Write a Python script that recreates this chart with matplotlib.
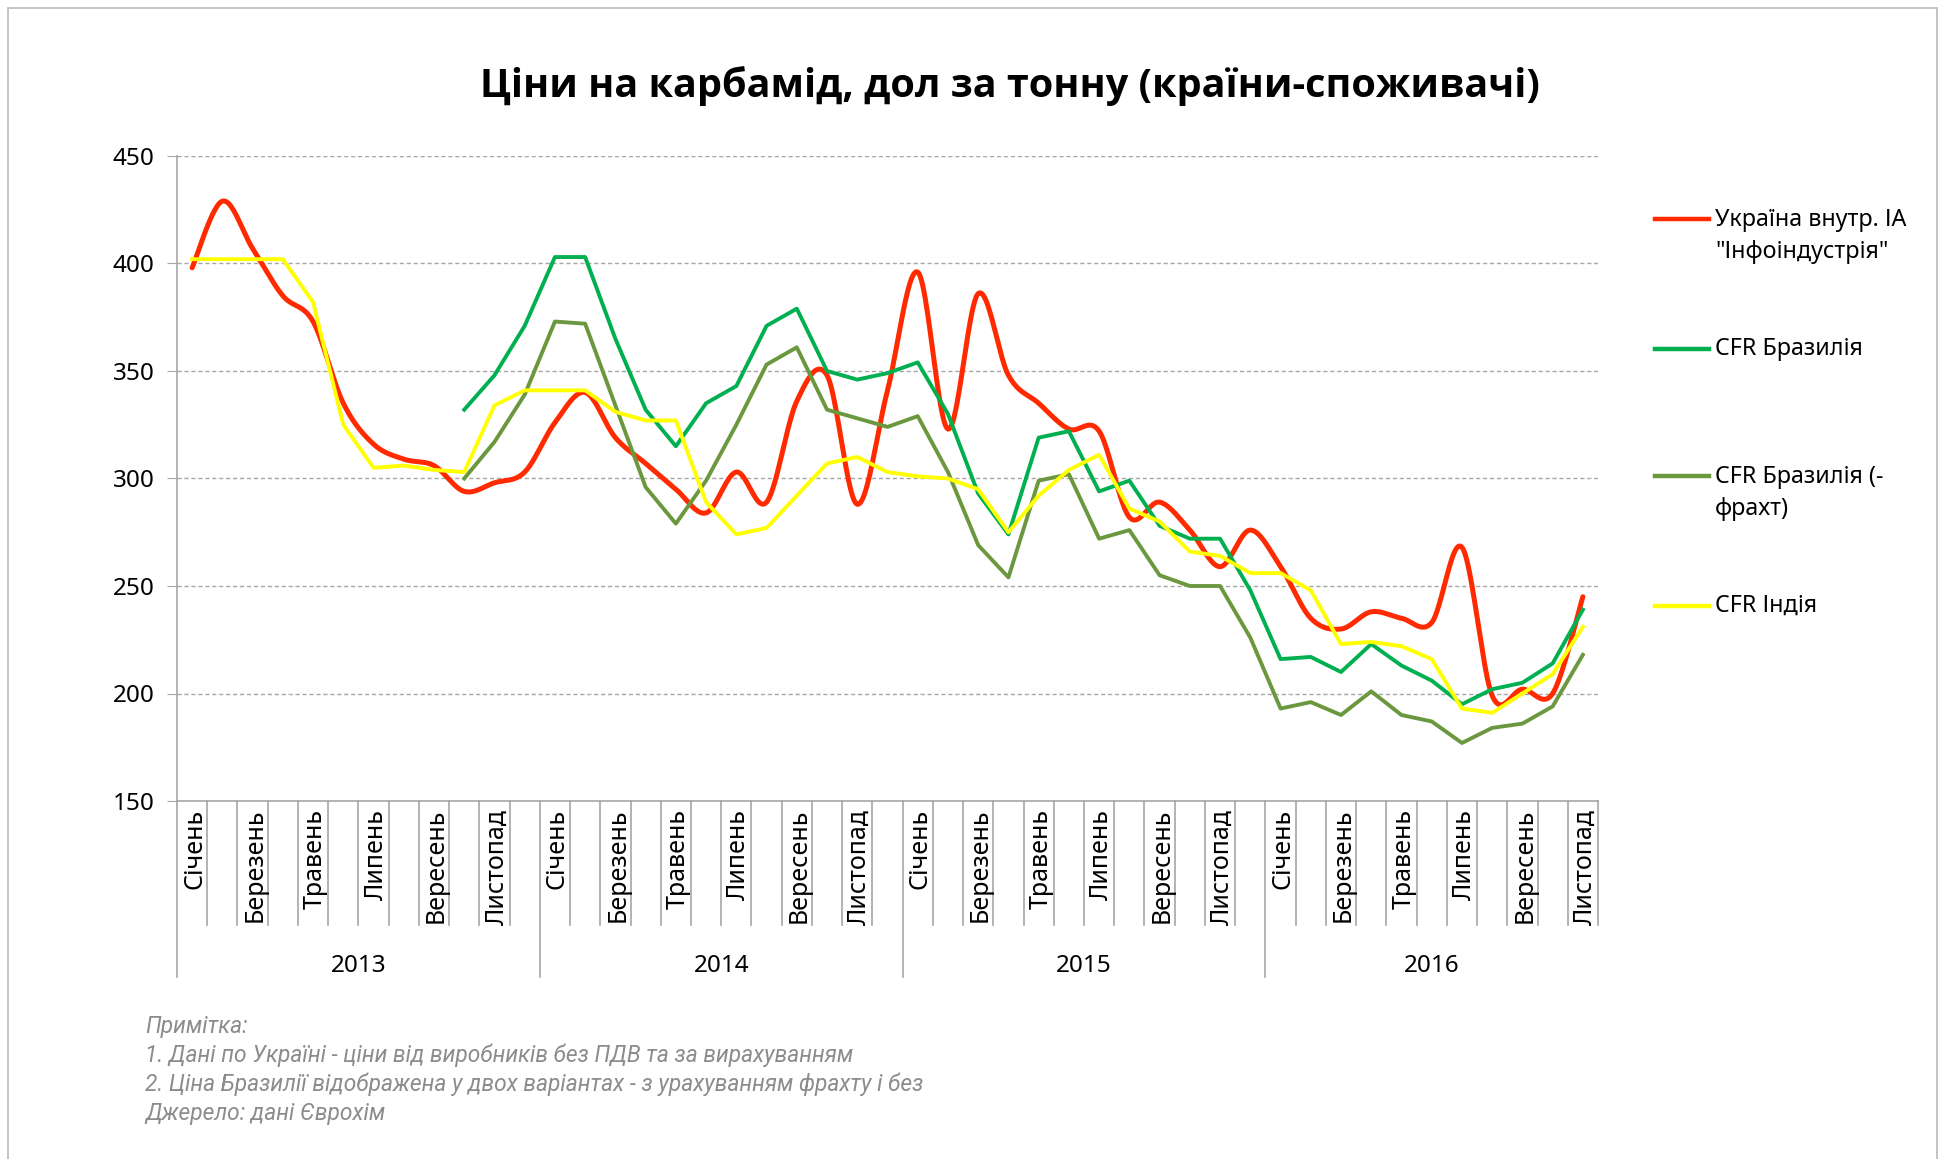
import numpy as np
import matplotlib
matplotlib.use('Agg')
import matplotlib.pyplot as plt
from matplotlib.transforms import blended_transform_factory
from matplotlib.lines import Line2D
from matplotlib.patches import Rectangle

plt.rcParams['font.family'] = ['Noto Sans', 'DejaVu Sans']

years = ['2013', '2014', '2015', '2016']
months = ['Січень', 'Лютий', 'Березень', 'Квітень', 'Травень', 'Червень',
          'Липень', 'Серпень', 'Вересень', 'Жовтень', 'Листопад', 'Грудень']
n_months = 47  # Jan 2013 .. Nov 2016

ukraine = [398, 429, 407, 385, 373, 335, 316, 309, 306, 294, 298, 303,
           326, 340, 319, 307, 295, 284, 303, 289, 336, 348, 288, 341,
           396, 323, 386, 348, 335, 323, 322, 282, 289, 276, 259, 276,
           259, 235, 230, 238, 235, 233, 268, 199, 202, 200, 245]
brazil = [None] * 9 + [
    332, 348, 371,
    403, 403, 365, 332, 315, 335, 343, 371, 379, 350, 346, 349,
    354, 330, 293, 274, 319, 322, 294, 299, 278, 272, 272, 248,
    216, 217, 210, 223, 213, 206, 195, 202, 205, 214, 239]
brazil_nofr = [None] * 9 + [
    300, 317, 339,
    373, 372, 334, 296, 279, 299, 325, 353, 361, 332, 328, 324,
    329, 303, 269, 254, 299, 302, 272, 276, 255, 250, 250, 226,
    193, 196, 190, 201, 190, 187, 177, 184, 186, 194, 218]
india = [402, 402, 402, 402, 382, 325, 305, 306, 304, 303, 334, 341,
         341, 341, 331, 327, 327, 289, 274, 277, 292, 307, 310, 303,
         301, 300, 295, 275, 292, 304, 311, 286, 280, 266, 264, 256,
         256, 248, 223, 224, 222, 216, 193, 191, 200, 209, 231]

series_names = ['Україна внутр. ІА\n"Інфоіндустрія"', 'CFR Бразилія',
                'CFR Бразилія (-\nфрахт)', 'CFR Індія']
colors = ['#FF2A00', '#00B050', '#6B983F', '#FFFF00']


def smooth(x, y, n=24):
    # Excel-style smoothed line (Catmull-Rom through the points)
    pts = np.column_stack([x, y]).astype(float)
    P = np.vstack([pts[0], pts, pts[-1]])
    t = np.linspace(0, 1, n, endpoint=False)[:, None]
    segs = []
    for i in range(1, len(P) - 2):
        p0, p1, p2, p3 = P[i - 1], P[i], P[i + 1], P[i + 2]
        c1 = p1 + (p2 - p0) / 6
        c2 = p2 - (p3 - p1) / 6
        segs.append((1 - t) ** 3 * p1 + 3 * (1 - t) ** 2 * t * c1
                    + 3 * (1 - t) * t ** 2 * c2 + t ** 3 * p2)
    segs.append(pts[-1:])
    return np.vstack(segs)


W, H = 1939, 1159
fig = plt.figure(figsize=(W / 100, H / 100), dpi=100)
ax = fig.add_axes([177 / W, 1 - 801 / H, (1598 - 177) / W, (801 - 156) / H])

x = np.arange(n_months)
sm = smooth(x, ukraine)
ax.plot(sm[:, 0], sm[:, 1], color=colors[0], lw=3.6, zorder=3,
        solid_capstyle='round')
for vals, c, z in [(brazil, colors[1], 4), (brazil_nofr, colors[2], 5),
                   (india, colors[3], 6)]:
    v = np.array([np.nan if a is None else a for a in vals], dtype=float)
    ax.plot(x, v, color=c, lw=2.8, zorder=z)

ax.set_xlim(-0.5, n_months - 0.5)
ax.set_ylim(150, 450)
ax.set_yticks(range(150, 451, 50))
for yv in range(200, 451, 50):
    ax.axhline(yv, color='#a6a6a6', lw=1, ls=(0, (3, 2)), zorder=1)
ax.set_xticks([])
for s in ['top', 'right']:
    ax.spines[s].set_visible(False)
for s in ['left', 'bottom']:
    ax.spines[s].set_color('#a6a6a6')
    ax.spines[s].set_linewidth(1.2)
ax.tick_params(axis='y', direction='out', length=7, color='#a6a6a6',
               labelsize=17.5, pad=9)

tr = blended_transform_factory(ax.transData, ax.transAxes)
for k in range(n_months + 1):
    ln = 0.273 if (k % 12 == 0 and k < n_months) else 0.192
    ax.plot([k - 0.5, k - 0.5], [0, -ln], color='#a6a6a6', lw=1.2,
            transform=tr, clip_on=False)
for i in range(0, n_months, 2):
    ax.text(i + 0.08, -0.012, months[i % 12], rotation=90, ha='center',
            va='top', fontsize=18, transform=tr)
for j, yr in enumerate(years):
    end = min(12 * (j + 1), n_months)
    ax.text((12 * j - 0.5 + end - 0.5) / 2, -0.256, yr, ha='center',
            va='center', fontsize=17.5, transform=tr)

fig.text(1010 / W, 1 - 86 / H, 'Ціни на карбамід, дол за тонну (країни-споживачі)',
         ha='center', va='center', fontsize=28.5, fontweight='bold',
         family=['Open Sans', 'DejaVu Sans'])

legend_y = [219, 349, 476, 606]
for name, c, ly in zip(series_names, colors, legend_y):
    fig.add_artist(Line2D([1655 / W, 1709 / W], [1 - ly / H, 1 - ly / H],
                          color=c, lw=3.2, transform=fig.transFigure))
    yy = ly + 17 if '\n' in name else ly
    fig.text(1715 / W, 1 - yy / H, name, ha='left', va='center',
             fontsize=16.8, linespacing=1.45)

notes = ['Примітка:',
         '1. Дані по Україні - ціни від виробників без ПДВ та за вирахуванням',
         '2. Ціна Бразилії відображена у двох варіантах - з урахуванням фрахту і без',
         'Джерело: дані Єврохім']
for i, t in enumerate(notes):
    fig.text(145 / W, 1 - (1027 + 28.7 * i) / H, t, ha='left', va='center',
             fontsize=16.4, style='italic', color='#8c8c8c',
             family=['Roboto', 'DejaVu Sans'])

fig.patches.append(Rectangle((8 / W, -0.1), (1937 - 8) / W, 1.1 - 8 / H,
                             fill=False, edgecolor='#bfbfbf', lw=1.3,
                             transform=fig.transFigure))

fig.savefig('out.png', dpi=100, facecolor='white')
